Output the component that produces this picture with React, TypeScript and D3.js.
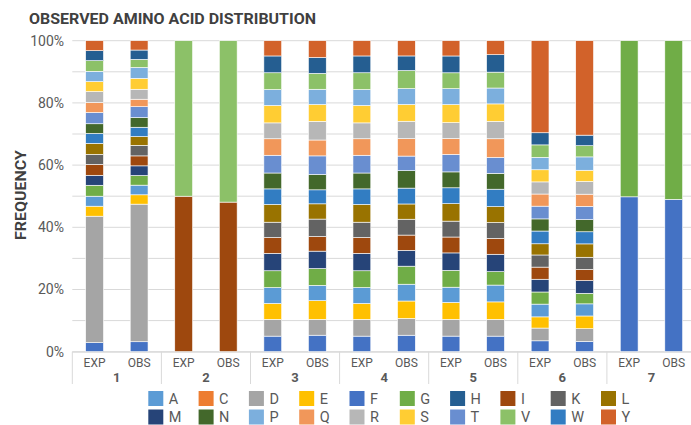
import React from "react";
import * as d3 from "d3";

const groups = ["1", "2", "3", "4", "5", "6", "7"];
const subLabels = ["EXP", "OBS"];
const legendOrder = ["A", "C", "D", "E", "F", "G", "H", "I", "K", "L", "M", "N", "P", "Q", "R", "S", "T", "V", "W", "Y"];
const stackOrder = ["F", "D", "E", "A", "C", "G", "M", "I", "K", "L", "W", "N", "T", "Q", "R", "S", "P", "V", "H", "Y"];
const yTicks = [0, 0.2, 0.4, 0.6, 0.8, 1];
const yGrid = [0, 0.1, 0.2, 0.3, 0.4, 0.5, 0.6, 0.7, 0.8, 0.9, 1];

// values per bar: 1E,1O,2E,2O,3E,3O,4E,4O,5E,5O,6E,6O,7E,7O
const A = [3.2, 3.1, 0, 0, 5.1, 4.9, 5.1, 5.4, 4.9, 5.4, 4.1, 3.9, 0, 0];
const C = [0, 0, 0, 0, 0, 0, 0, 0, 0, 0, 0, 0, 0, 0];
const D = [40.5, 44.2, 0, 0, 5.4, 5.1, 5.4, 5.4, 5.4, 5.4, 4.1, 4.1, 0, 0];
const E = [3.2, 3.0, 0, 0, 5.1, 6.0, 5.1, 5.6, 5.4, 5.6, 3.6, 4.1, 0, 0];
const F = [2.9, 3.2, 0, 0, 5.0, 5.3, 5.0, 5.3, 5.0, 5.0, 3.5, 3.3, 49.8, 49.0];
const G = [3.5, 3.1, 0, 0, 5.4, 5.4, 5.4, 5.8, 5.4, 4.3, 3.9, 3.4, 50.2, 51.0];
const H = [3.2, 3.0, 0, 0, 5.4, 5.1, 5.4, 4.7, 5.4, 5.6, 3.9, 3.4, 0, 0];
const I = [3.5, 3.2, 50.0, 48.1, 5.1, 4.7, 5.1, 4.9, 5.1, 5.1, 3.9, 3.6, 0, 0];
const K = [3.2, 3.4, 0, 0, 4.9, 5.6, 4.9, 5.1, 5.1, 5.1, 3.9, 3.9, 0, 0];
const L = [3.5, 2.8, 0, 0, 5.7, 4.9, 5.7, 4.9, 5.6, 5.1, 3.6, 4.3, 0, 0];
const M = [3.2, 3.1, 0, 0, 5.6, 5.6, 5.6, 5.1, 5.6, 5.6, 4.1, 4.1, 0, 0];
const N = [3.1, 3.1, 0, 0, 5.1, 4.9, 5.1, 5.6, 5.1, 5.1, 3.9, 3.9, 0, 0];
const P = [3.3, 3.5, 0, 0, 5.1, 4.9, 5.1, 5.1, 5.1, 5.1, 4.0, 4.3, 0, 0];
const Q = [3.2, 2.4, 0, 0, 5.3, 5.1, 5.3, 5.6, 5.1, 6.0, 3.9, 3.9, 0, 0];
const R = [3.5, 3.2, 0, 0, 5.1, 6.0, 5.1, 5.6, 5.1, 5.6, 3.9, 4.1, 0, 0];
const S = [3.2, 3.5, 0, 0, 5.6, 5.4, 5.6, 5.4, 5.8, 5.6, 3.9, 3.6, 0, 0];
const T = [3.6, 3.5, 0, 0, 5.7, 6.0, 5.7, 4.7, 5.6, 5.1, 4.1, 4.3, 0, 0];
const V = [3.4, 2.6, 50.0, 51.9, 5.4, 5.1, 5.4, 5.8, 5.1, 5.1, 4.0, 3.6, 0, 0];
const W = [3.2, 3.0, 0, 0, 5.0, 4.5, 5.0, 5.1, 5.1, 5.6, 4.1, 3.9, 0, 0];
const Y = [3.2, 3.0, 0, 0, 4.9, 5.4, 4.9, 4.9, 4.9, 4.5, 29.6, 30.4, 0, 0];

const seriesValues: Record<string, number[]> = { A, C, D, E, F, G, H, I, K, L, M, N, P, Q, R, S, T, V, W, Y };

const colors: Record<string, string> = {
  A: "#5B9BD5", C: "#ED7D31", D: "#A5A5A5", E: "#FFC000", F: "#4472C4",
  G: "#70AD47", H: "#255E91", I: "#9E480E", K: "#636363", L: "#997300",
  M: "#264478", N: "#43682B", P: "#7CAFDD", Q: "#F1975A", R: "#B7B7B7",
  S: "#FFCD33", T: "#698ED0", V: "#8CC168", W: "#327DC2", Y: "#D2622A",
};

const FONT = "Roboto, 'DejaVu Sans', sans-serif";
const TXT = "#595959";

export default function App() {
  const width = 691, height = 425;
  const plotLeft = 72.3, plotRight = 696, plotTop = 40.7, plotBottom = 351.7;

  const rows = groups.flatMap((g, gi) =>
    subLabels.map((s, si) => {
      const idx = gi * 2 + si;
      const row: any = { group: g, sub: s };
      stackOrder.forEach((k) => (row[k] = seriesValues[k][idx]));
      return row;
    })
  );

  const stacked = d3.stack<any>().keys(stackOrder).offset(d3.stackOffsetExpand)(rows);

  const xGroup = d3.scaleBand().domain(groups).range([plotLeft, plotRight]).padding(0);
  const xSub = d3.scaleBand().domain(subLabels).range([0, xGroup.bandwidth()]).paddingInner(0.6).paddingOuter(0.3);
  const y = d3.scaleLinear().domain([0, 1]).range([plotBottom, plotTop]);

  const legendX = d3.scaleLinear().domain([0, 9]).range([148.3, 601]);

  return (
    <svg width={width} height={height} style={{ position: "absolute", left: 0, top: 0, background: "#fff" }} fontFamily={FONT}>
      <text x={29} y={24} fontSize={15} fontWeight={700} fill="#404040" textLength={287} lengthAdjust="spacingAndGlyphs">
        OBSERVED AMINO ACID DISTRIBUTION
      </text>
      <text transform={`translate(26,${195}) rotate(-90)`} textAnchor="middle" fontSize={15} fontWeight={700} fill="#404040" textLength={90} lengthAdjust="spacingAndGlyphs">
        FREQUENCY
      </text>
      {yGrid.map((t) => (
        <line key={t} x1={plotLeft} x2={width} y1={y(t)} y2={y(t)} stroke="#D9D9D9" strokeWidth={1} />
      ))}
      {yTicks.map((t) => (
        <text key={t} x={64} y={y(t)} dy="0.35em" textAnchor="end" fontSize={14} fill={TXT}>
          {d3.format(".0%")(t)}
        </text>
      ))}
      {stacked.map((layer) => (
        <g key={layer.key} fill={colors[layer.key]}>
          {layer.map((d, i) => {
            const h = y(d[0]) - y(d[1]);
            if (h <= 0) return null;
            return (
              <rect
                key={i}
                x={(xGroup(d.data.group) as number) + (xSub(d.data.sub) as number)}
                y={y(d[1])}
                width={xSub.bandwidth()}
                height={h}
                stroke="#fff"
                strokeWidth={0.6}
              />
            );
          })}
        </g>
      ))}
      <line x1={plotLeft} x2={width} y1={plotBottom + 0.5} y2={plotBottom + 0.5} stroke="#D9D9D9" />
      {[...groups.map((g) => xGroup(g) as number), plotRight].map((x, i) => (
        <line key={i} x1={x} x2={x} y1={plotBottom} y2={384} stroke="#D9D9D9" />
      ))}
      {groups.map((g) => (
        <g key={g}>
          {subLabels.map((s) => (
            <text key={s} x={(xGroup(g) as number) + (xSub(s) as number) + xSub.bandwidth() / 2} y={362.5} dy="0.35em" textAnchor="middle" fontSize={12} fill={TXT}>
              {s}
            </text>
          ))}
          <text x={(xGroup(g) as number) + xGroup.bandwidth() / 2} y={377} dy="0.35em" textAnchor="middle" fontSize={13} fontWeight={700} fill={TXT}>
            {g}
          </text>
        </g>
      ))}
      {legendOrder.map((k, i) => {
        const col = i % 10;
        const row = Math.floor(i / 10);
        const lx = legendX(col);
        const ly = 398.5 + row * 18.5;
        return (
          <g key={k}>
            <rect x={lx} y={ly - 7.5} width={15} height={15} fill={colors[k]} />
            <text x={lx + 20.5} y={ly + 5.2} fontSize={14.5} fill={TXT}>
              {k}
            </text>
          </g>
        );
      })}
    </svg>
  );
}
